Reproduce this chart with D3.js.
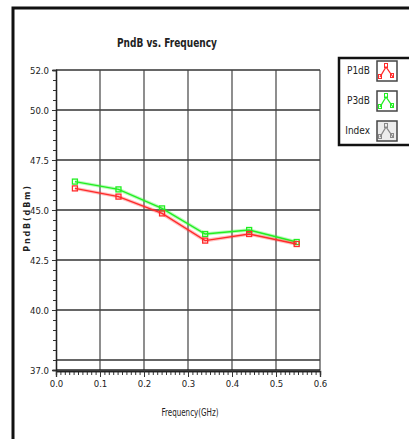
<!DOCTYPE html>
<html>
<head>
<meta charset="utf-8">
<script src="https://cdn.jsdelivr.net/npm/d3@7"></script>
<style>
  body { margin: 0; background: #fff; }
  text { font-family: "Liberation Sans Narrow", "DejaVu Sans Condensed", "DejaVu Sans", sans-serif; font-stretch: condensed; fill: #222; }
</style>
</head>
<body>
<div id="chart"></div>
<script>
// data
var freq = [0.043, 0.142, 0.241, 0.339, 0.439, 0.547];
var p1dB = [46.08, 45.67, 44.83, 43.47, 43.80, 43.30];
var p3dB = [46.42, 46.03, 45.08, 43.80, 44.00, 43.40];
var yTicks = [52.0, 50.0, 47.5, 45.0, 42.5, 40.0, 37.0];
var yGrid = [50.0, 47.5, 45.0, 42.5, 40.0, 37.5];
var xTicks = [0.0, 0.1, 0.2, 0.3, 0.4, 0.5, 0.6];
var legendNames = ["P1dB", "P3dB", "Index"];
var legendColors = ["#ff2a2a", "#22ee22", "#888"];

var W = 409, H = 439;
var svg = d3.select("#chart").append("svg")
  .attr("width", W).attr("height", H);

// outer frame
svg.append("rect")
  .attr("x", 13).attr("y", 8).attr("width", 420).attr("height", 450)
  .attr("fill", "none").attr("stroke", "#111").attr("stroke-width", 3);

var xScale = d3.scaleLinear().domain([0, 0.6]).range([56, 320]);
var yScale = d3.scaleLinear().domain([37, 52]).range([370, 70]);

// grid
svg.selectAll(".hgrid").data(yGrid.concat([52])).enter().append("line")
  .attr("x1", xScale(0)).attr("x2", xScale(0.6))
  .attr("y1", function(d) { return yScale(d); })
  .attr("y2", function(d) { return yScale(d); })
  .attr("stroke", "#333").attr("stroke-width", 1.3);
svg.selectAll(".vgrid").data(xTicks.slice(1)).enter().append("line")
  .attr("y1", yScale(37)).attr("y2", yScale(52))
  .attr("x1", function(d) { return xScale(d); })
  .attr("x2", function(d) { return xScale(d); })
  .attr("stroke", "#444").attr("stroke-width", 1.2);

// axes
var yMinor = d3.axisLeft(yScale).ticks(30).tickSize(3).tickFormat("");
var yAxis = d3.axisLeft(yScale).tickValues(yTicks).tickSize(4)
  .tickFormat(d3.format(".1f"));
var xMinor = d3.axisBottom(xScale).ticks(60).tickSize(4).tickFormat("");
var xAxis = d3.axisBottom(xScale).tickValues(xTicks).tickSize(6)
  .tickFormat(d3.format(".1f"));

svg.append("g").attr("transform", "translate(" + xScale(0) + ",0)").call(yMinor);
svg.append("g").attr("class", "ax").attr("transform", "translate(" + xScale(0) + ",0)").call(yAxis);
svg.append("g").attr("transform", "translate(0," + (yScale(37) + 1) + ")").call(xMinor);
svg.append("g").attr("class", "ax").attr("transform", "translate(0," + (yScale(37) + 1) + ")").call(xAxis);

svg.selectAll(".domain").attr("stroke", "#222").attr("stroke-width", 1.3);
svg.selectAll(".tick line").attr("stroke", "#333");
svg.selectAll(".ax text").style("font-size", "9.5px").attr("fill", "#222");

// x axis line at bottom of plot
svg.append("line")
  .attr("x1", xScale(0)).attr("x2", xScale(0.6))
  .attr("y1", yScale(37)).attr("y2", yScale(37))
  .attr("stroke", "#222").attr("stroke-width", 1.5);

// series
var series = [
  {name: "P3dB", values: p3dB, color: "#22ee22"},
  {name: "P1dB", values: p1dB, color: "#ff2a2a"}
];
var line = d3.line()
  .x(function(d, i) { return xScale(freq[i]); })
  .y(function(d) { return yScale(d); });

series.forEach(function(s) {
  svg.append("path").datum(s.values)
    .attr("d", line).attr("fill", "none")
    .attr("stroke", s.color).attr("stroke-opacity", 0.3).attr("stroke-width", 3.5);
  svg.append("path").datum(s.values)
    .attr("d", line).attr("fill", "none")
    .attr("stroke", s.color).attr("stroke-width", 1.4);
  svg.selectAll(null).data(s.values).enter().append("rect")
    .attr("x", function(d, i) { return xScale(freq[i]) - 2.5; })
    .attr("y", function(d) { return yScale(d) - 2.5; })
    .attr("width", 5).attr("height", 5)
    .attr("fill", "none").attr("stroke", s.color).attr("stroke-width", 1.3);
});

// titles
svg.append("text").attr("x", 167).attr("y", 47)
  .attr("text-anchor", "middle").style("font-size", "13px").style("font-weight", "bold")
  .attr("textLength", 100).attr("lengthAdjust", "spacingAndGlyphs")
  .text("PndB vs. Frequency");
svg.append("text").attr("x", 190).attr("y", 416)
  .attr("text-anchor", "middle").style("font-size", "10px")
  .attr("textLength", 57).attr("lengthAdjust", "spacingAndGlyphs")
  .text("Frequency(GHz)");
svg.append("text")
  .attr("transform", "translate(30,218) rotate(-90)")
  .attr("text-anchor", "middle").style("font-size", "9px").style("font-weight", "bold")
  .style("letter-spacing", "1.8px")
  .text("PndB(dBm)");

// legend
var lg = svg.append("g");
lg.append("rect").attr("x", 339).attr("y", 58).attr("width", 74).attr("height", 87)
  .attr("fill", "#fff").attr("stroke", "#111").attr("stroke-width", 2.5);
var items = lg.selectAll(".item").data(legendNames).enter().append("g")
  .attr("transform", function(d, i) { return "translate(0," + (60 + i * 30) + ")"; });
items.append("text").attr("x", 370).attr("y", 14)
  .attr("text-anchor", "end").style("font-size", "10px")
  .text(function(d) { return d; });
items.append("rect").attr("x", 377).attr("y", 1).attr("width", 20).attr("height", 20)
  .attr("fill", function(d, i) { return i == 2 ? "#ececec" : "#fff"; })
  .attr("stroke", "#444").attr("stroke-width", 1.5);
items.append("path")
  .attr("d", "M380,17 L386,7 L393,17")
  .attr("fill", "none")
  .attr("stroke", function(d, i) { return legendColors[i]; })
  .attr("stroke-width", 1.3);
items.append("g").selectAll("rect").data([[380, 16], [386, 5], [392, 15]]).enter().append("rect")
  .attr("x", function(p) { return p[0] - 1.5; })
  .attr("y", function(p) { return p[1] - 1.5; })
  .attr("width", 3).attr("height", 4)
  .attr("fill", "none")
  .attr("stroke", function() { return legendColors[legendNames.indexOf(d3.select(this.parentNode).datum())]; })
  .attr("stroke-width", 1);
</script>
</body>
</html>
